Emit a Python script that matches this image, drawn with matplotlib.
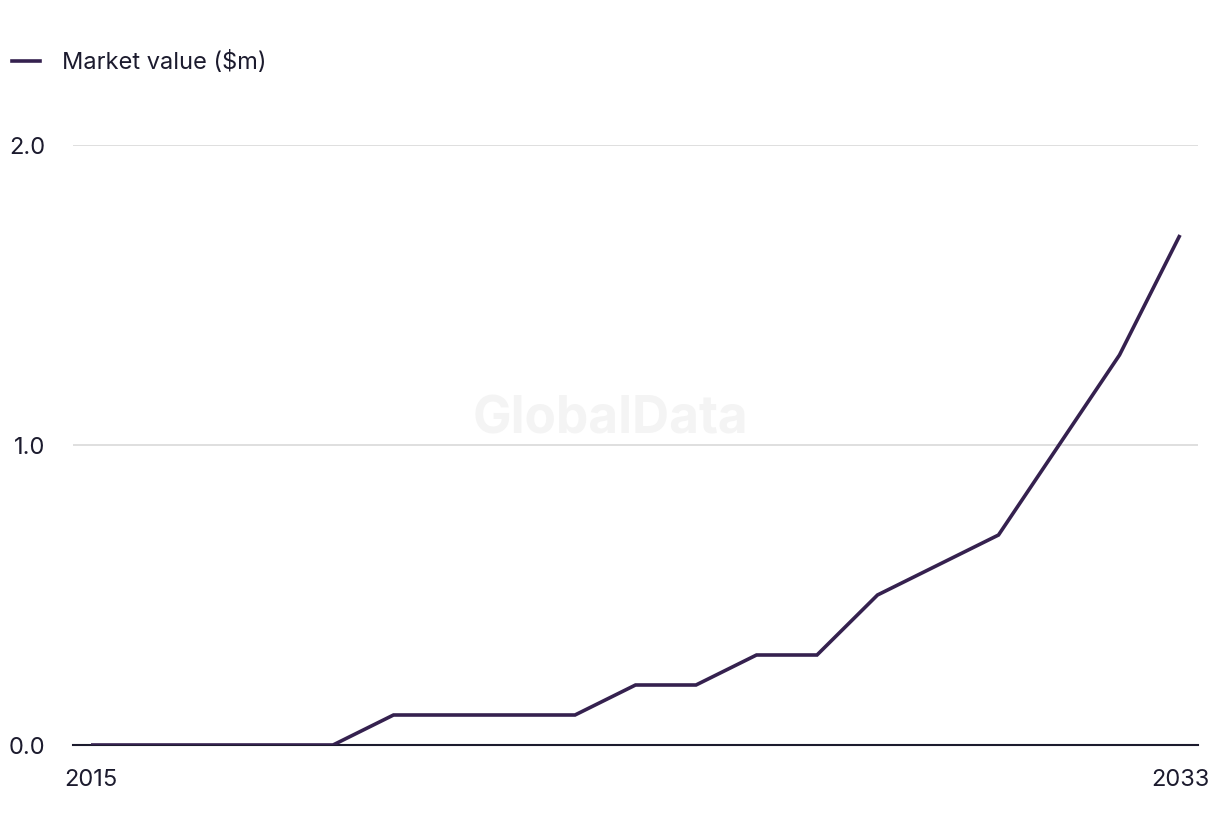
import matplotlib
matplotlib.use("Agg")
import matplotlib.pyplot as plt
from matplotlib.lines import Line2D

years = list(range(2015, 2034))
market_value = [0.0, 0.0, 0.0, 0.0, 0.0, 0.1, 0.1, 0.1, 0.1, 0.2,
                0.2, 0.3, 0.3, 0.5, 0.6, 0.7, 1.0, 1.3, 1.7]
y_ticks = [0.0, 1.0, 2.0]
x_ticks = [2015, 2033]

LINE = "#35214f"
TEXT = "#1c1b2e"
GRID = "#d9d9d9"

plt.rcParams["font.family"] = ["Inter", "DejaVu Sans"]

fig = plt.figure(figsize=(12.2, 8.36), dpi=100)
ax = fig.add_axes([73 / 1220, 91 / 836, 1125 / 1220, 600 / 836])

ax.plot(years, market_value, color=LINE, lw=2.6, solid_joinstyle="miter",
        solid_capstyle="butt", zorder=3)

ax.set_xlim(2015 - 18 / 60.5, 2033 + 18 / 60.5)
ax.set_ylim(0, 2.0)
ax.set_yticks(y_ticks)
ax.set_yticklabels([f"{v:.1f}" for v in y_ticks])
ax.set_xticks(x_ticks)
ax.set_xticklabels([str(x) for x in x_ticks])
ax.tick_params(axis="both", length=0, labelsize=17, colors=TEXT)
ax.tick_params(axis="y", pad=20)
ax.tick_params(axis="x", pad=17)

ax.grid(axis="y", color=GRID, lw=1.2)
ax.set_axisbelow(True)
for side in ["top", "right", "left"]:
    ax.spines[side].set_visible(False)
ax.spines["bottom"].set_color(TEXT)
ax.spines["bottom"].set_linewidth(1.5)
ax.spines["bottom"].set_zorder(2)

# watermark
fig.text(0.5, 1 - 420 / 836, "GlobalData", ha="center", va="center",
         fontsize=37, fontweight="bold", color="#f4f4f4", zorder=0)

handle = Line2D([], [], color=LINE, lw=2.6)
fig.legend([handle], ["Market value ($m)"], loc="upper left",
           bbox_to_anchor=(12 / 1220, 1 - 51 / 836), frameon=False, fontsize=17,
           handlelength=1.2, handletextpad=0.9, labelcolor=TEXT,
           borderaxespad=0, borderpad=0.0)

fig.savefig("out.png", dpi=100)
